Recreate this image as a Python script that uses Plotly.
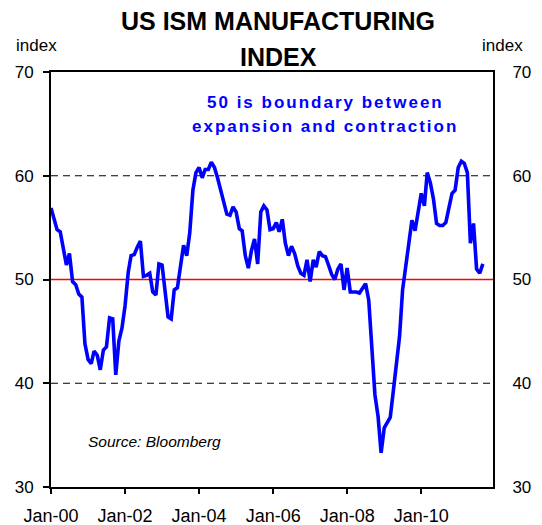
import plotly.graph_objects as go
import pandas as pd

# ---------------- data ----------------
ism_values = [
    # 2000
    56.9, 55.9, 54.8, 54.6, 53.0, 51.4, 52.5, 49.8, 49.5, 48.6, 48.3, 43.8,
    # 2001
    42.3, 41.9, 43.1, 42.7, 41.3, 43.2, 43.5, 46.3, 46.2, 40.8, 44.1, 45.3,
    # 2002
    47.5, 50.7, 52.3, 52.4, 53.1, 53.7, 50.3, 50.4, 50.6, 48.8, 48.5, 51.5,
    # 2003
    51.4, 48.8, 46.4, 46.2, 49.0, 49.2, 51.5, 53.3, 52.3, 54.5, 58.6, 60.3,
    # 2004
    60.8, 59.8, 60.6, 60.6, 61.3, 60.8, 59.8, 58.6, 57.6, 56.3, 56.2, 57.0,
    # 2005
    56.5, 54.9, 54.7, 52.3, 51.1, 52.8, 53.9, 51.5, 56.5, 57.1, 56.7, 54.8,
    # 2006
    54.9, 55.5, 54.6, 55.8, 53.5, 52.3, 53.2, 52.5, 51.3, 50.6, 50.4, 51.9,
    # 2007
    49.8, 51.9, 51.2, 52.7, 52.3, 52.2, 51.4, 50.5, 50.0, 51.0, 51.5, 49.0,
    # 2008
    51.1, 48.8, 48.8, 48.8, 48.7, 49.2, 49.6, 48.0, 43.5, 38.9, 36.8, 33.3,
    # 2009
    35.7, 36.2, 36.7, 39.3, 41.9, 44.5, 49.0, 51.5, 54.0, 55.7, 54.7, 56.4,
    # 2010
    58.3, 57.1, 60.3, 59.3, 57.8, 55.4, 55.2, 55.2, 55.5, 56.9, 58.3, 58.6,
    # 2011
    60.8, 61.4, 61.2, 60.3, 53.5, 55.4, 51.0, 50.6, 51.5,
]
first_month = "2000-01-01"
axis_end = "2011-12-10"
tick_dates = ["2000-01-01", "2002-01-01", "2004-01-01",
              "2006-01-01", "2008-01-01", "2010-01-01"]
tick_labels = ["Jan-00", "Jan-02", "Jan-04", "Jan-06", "Jan-08", "Jan-10"]
y_ticks = [30, 40, 50, 60, 70]
y_range = [30, 70]
dashed_levels = [40, 60]
boundary_level = 50

title_lines = ["US ISM MANUFACTURING", "INDEX"]
note_lines = ["50 is boundary between", "expansion and contraction"]
source_text = "Source: Bloomberg"
unit_text = "index"

dates = pd.date_range(first_month, periods=len(ism_values), freq="MS")

# ---------------- layout geometry ----------------
W, H = 542, 525
L, R, T, B = 51, 49, 72, 38
FONT = "Liberation Sans, Arial, sans-serif"


def px(x):
    return (x - L) / (W - L - R)


def py(y):
    return (H - B - y) / (H - T - B)


fig = go.Figure()
# boundary line at 50, drawn as a trace through the axis scales
fig.add_trace(go.Scatter(
    x=[first_month, axis_end], y=[boundary_level, boundary_level],
    mode="lines", line=dict(color="#FF0000", width=1.5),
    showlegend=False, hoverinfo="skip", yaxis="y"))
fig.add_trace(go.Scatter(
    x=dates, y=ism_values, mode="lines",
    line=dict(color="#0000FF", width=3.6),
    showlegend=False, hoverinfo="x+y", yaxis="y"))
fig.add_trace(go.Scatter(
    x=dates, y=ism_values, mode="lines",
    line=dict(color="rgba(0,0,0,0)", width=0), opacity=0,
    showlegend=False, hoverinfo="skip", yaxis="y2"))

for lvl in dashed_levels:
    fig.add_shape(type="line", xref="paper", yref="y", x0=0, x1=1,
                  y0=lvl, y1=lvl,
                  line=dict(color="black", width=1, dash="7px,5px"),
                  layer="between")

annotations = [
    dict(text=title_lines[0], x=px(278), y=py(21), xref="paper", yref="paper",
         showarrow=False, xanchor="center", yanchor="middle",
         font=dict(family=FONT, size=25, color="black", weight="bold")),
    dict(text=title_lines[1], x=px(278), y=py(57), xref="paper", yref="paper",
         showarrow=False, xanchor="center", yanchor="middle",
         font=dict(family=FONT, size=25, color="black", weight="bold")),
    dict(text=note_lines[0], x=px(325), y=py(102), xref="paper", yref="paper",
         showarrow=False, xanchor="center", yanchor="middle",
         font=dict(family=FONT, size=17, color="#0000FF", weight="bold")),
    dict(text=note_lines[1], x=px(325), y=py(126), xref="paper", yref="paper",
         showarrow=False, xanchor="center", yanchor="middle",
         font=dict(family=FONT, size=17, color="#0000FF", weight="bold")),
    dict(text=source_text, x=px(86), y=py(441), xref="paper", yref="paper",
         showarrow=False, xanchor="left", yanchor="middle",
         font=dict(family=FONT, size=15.5, color="black", style="italic")),
    dict(text=unit_text, x=px(36), y=py(45), xref="paper", yref="paper",
         showarrow=False, xanchor="center", yanchor="middle",
         font=dict(family=FONT, size=17, color="black")),
    dict(text=unit_text, x=px(503), y=py(45), xref="paper", yref="paper",
         showarrow=False, xanchor="center", yanchor="middle",
         font=dict(family=FONT, size=17, color="black")),
]

fig.update_layout(
    width=W, height=H,
    margin=dict(l=L, r=R, t=T, b=B, pad=0, autoexpand=False),
    paper_bgcolor="white", plot_bgcolor="white",
    font=dict(family=FONT, color="black"),
    showlegend=False,
    annotations=annotations,
    xaxis=dict(
        type="date", range=[first_month, axis_end],
        tickvals=tick_dates, ticktext=tick_labels,
        ticks="outside", ticklen=5, tickwidth=1.5, tickcolor="black",
        showline=True, linecolor="black", linewidth=2, mirror=True,
        showgrid=False, zeroline=False, automargin=False,
        tickfont=dict(family=FONT, size=18, color="black"),
        ticklabelstandoff=6,
    ),
    yaxis=dict(
        range=y_range, tickvals=y_ticks,
        ticks="outside", ticklen=6, tickwidth=1.5, tickcolor="black",
        showline=True, linecolor="black", linewidth=2,
        showgrid=False, zeroline=False, automargin=False,
        tickfont=dict(family=FONT, size=17, color="black"),
        ticklabelstandoff=6,
    ),
    yaxis2=dict(
        range=y_range, tickvals=y_ticks, overlaying="y", side="right",
        anchor="x",
        ticks="", showline=True, linecolor="black", linewidth=2,
        showgrid=False, zeroline=False, automargin=False,
        tickfont=dict(family=FONT, size=17, color="black"),
        ticklabelstandoff=14,
    ),
)

page_js = """
document.documentElement.style.margin = '0';
document.documentElement.style.padding = '0';
document.body.style.margin = '0';
document.body.style.padding = '0';
document.body.style.overflow = 'hidden';
document.querySelectorAll('.annotation-text').forEach(function(t){
  var s = t.textContent;
  if (s.indexOf('boundary') >= 0 || s.indexOf('expansion') >= 0) {
    t.style.letterSpacing = '2px';
  }
});
"""

fig.write_html("out.html", config={"displayModeBar": False},
               post_script=page_js)
